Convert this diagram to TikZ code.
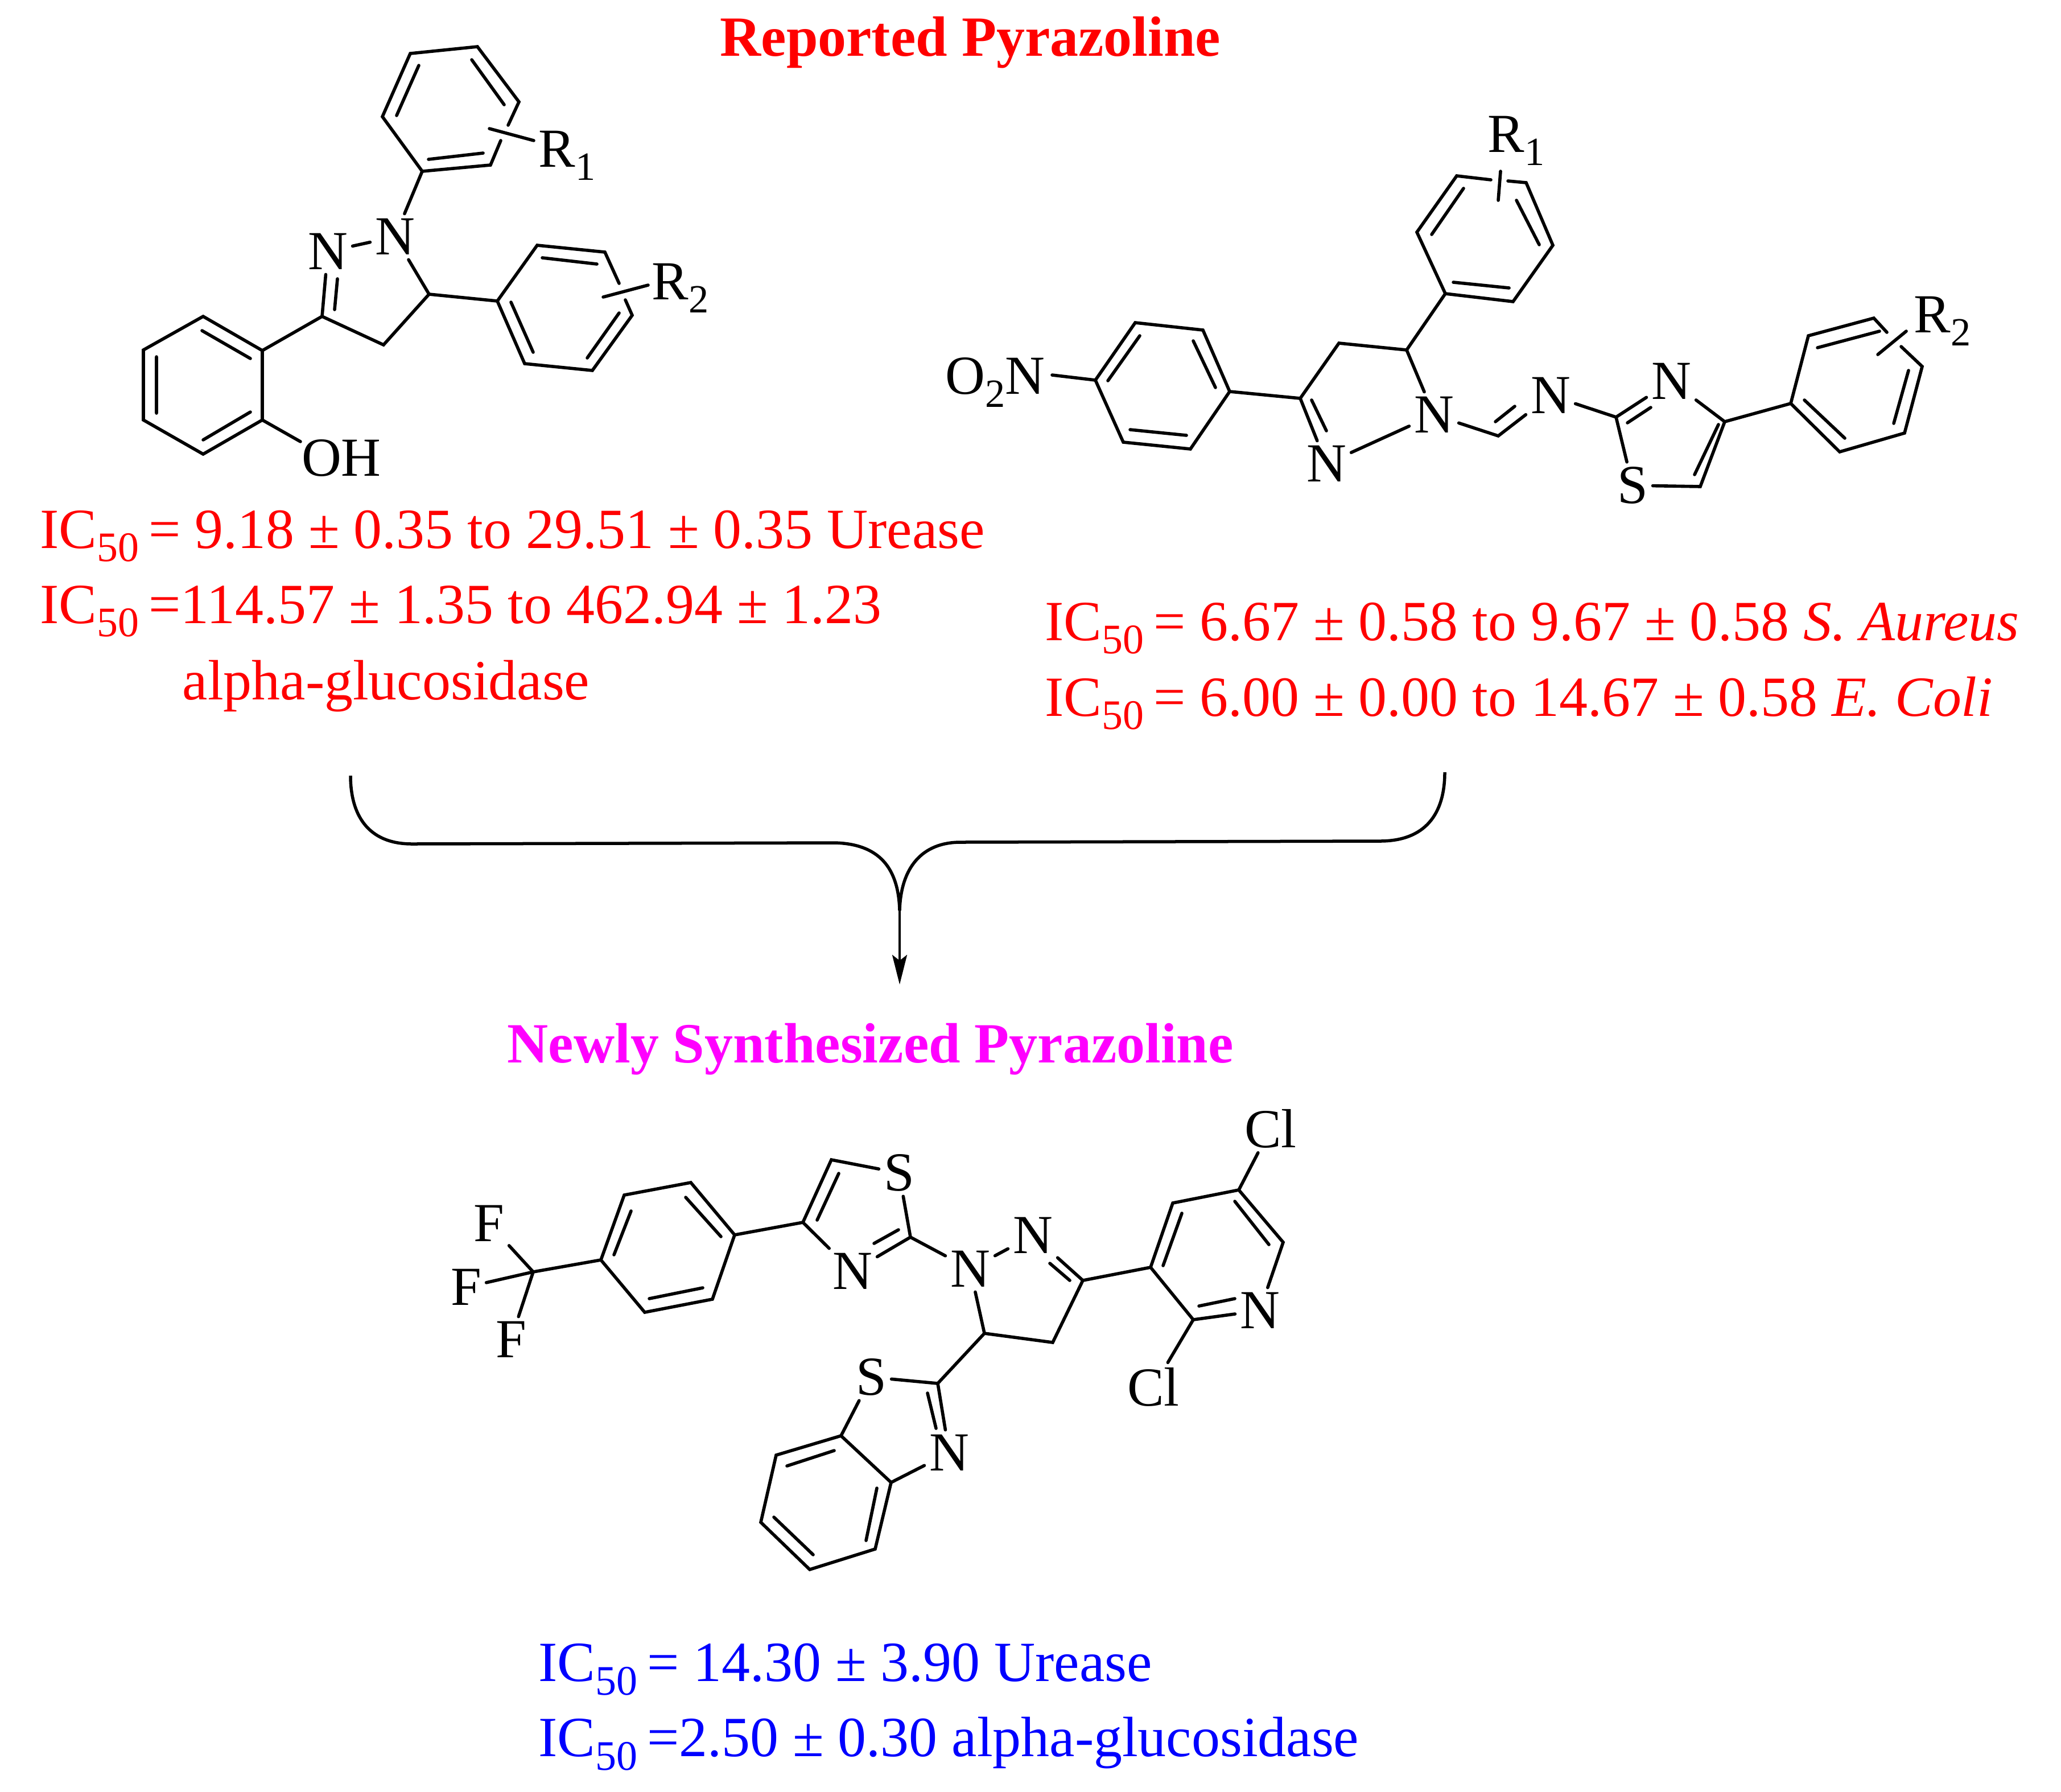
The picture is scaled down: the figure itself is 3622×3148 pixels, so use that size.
\documentclass[tikz,border=0pt]{standalone}
\usepackage{fontspec}
\setmainfont{Liberation Serif}
\usetikzlibrary{arrows.meta}
\definecolor{pRed}{HTML}{FF0000}
\definecolor{pMag}{HTML}{FF00FF}
\definecolor{pBlue}{HTML}{0000FF}
\newcommand\sbs[1]{\raisebox{-0.24em}{\fontsize{20}{20}\selectfont #1}}
\newcommand\sbl[1]{\raisebox{-0.24em}{\fontsize{21}{21}\selectfont #1}}
\tikzset{
 bond/.style={line width=0.056cm,line cap=round,line join=miter},
 atom/.style={font=\fontsize{27.5}{30}\selectfont,inner sep=0.08cm},
 rlabel/.style={font=\fontsize{27.5}{30}\selectfont,inner sep=0,anchor=base west},
 ictext/.style={font=\fontsize{28.4}{32}\selectfont,inner sep=0,anchor=base west},
 headtext/.style={font=\fontsize{28.4}{32}\selectfont\bfseries,inner sep=0,anchor=base west},
 curveline/.style={line width=0.055cm}
}
\newcommand\pts[1]{\foreach \n/\x/\y in {#1}{\coordinate (\n) at (\x,\y);}}
\begin{document}
\begin{tikzpicture}[x=0.01cm,y=-0.01cm]
\useasboundingbox (0,0) rectangle (3622,3148);
% --- headings
\node[headtext,text=pRed] (head1) at (1265,98) {Reported Pyrazoline};
\node[headtext,text=pMag] (head2) at (891,1867) {Newly Synthesized Pyrazoline};
% --- activity texts
\node[ictext,text=pRed] (t1) at (70,963) {IC\sbl{50}\,= 9.18 ± 0.35 to 29.51 ± 0.35 Urease};
\node[ictext,text=pRed] (t2) at (70,1095) {IC\sbl{50}\,=114.57 ± 1.35 to 462.94 ± 1.23};
\node[ictext,text=pRed] (t3) at (320,1229) {alpha-glucosidase};
\node[ictext,text=pRed] (t4) at (1836,1125) {IC\sbl{50}\,= 6.67 ± 0.58 to 9.67 ± 0.58 \textit{S. Aureus}};
\node[ictext,text=pRed] (t5) at (1836,1258) {IC\sbl{50}\,= 6.00 ± 0.00 to 14.67 ± 0.58 \textit{E. Coli}};
\node[ictext,text=pBlue] (t6) at (946,2954) {IC\sbl{50}\,= 14.30 ± 3.90 Urease};
\node[ictext,text=pBlue] (t7) at (946,3086) {IC\sbl{50}\,=2.50 ± 0.30 alpha-glucosidase};
% --- merging arrow
\coordinate (cL) at (616,1363); \coordinate (cLb) at (724,1483); \coordinate (cLe) at (1467,1481);
\coordinate (cR) at (2539,1357); \coordinate (cRb) at (2425,1478); \coordinate (cRe) at (1688,1480);
\coordinate (cM) at (1581,1600); \coordinate (cT) at (1581,1730);
\draw[curveline] (cL) .. controls (616,1430) and (645,1483) .. (cLb) -- (cLe) .. controls (1545,1483) and (1579,1525) .. (cM);
\draw[curveline] (cR) .. controls (2539,1430) and (2505,1478) .. (cRb) -- (cRe) .. controls (1620,1480) and (1583,1525) .. (cM);
\draw[line width=0.04cm,-{Stealth[length=0.52cm,width=0.26cm,inset=0.1cm]}] (cM) -- (cT);
% ================ Molecule 1
\node[atom] (m1N1) at (694,416) {N};
\node[atom] (m1N2) at (576,442) {N};
\node[atom] (m1OH) at (600,805) {OH};
\node[rlabel] (m1R1) at (946,293) {R\sbs{1}};
\node[rlabel] (m1R2) at (1145,526) {R\sbs{2}};
\pts{a1/839/82,a2/721/94,a3/672/205,a4/742/301,a5/862/290,a6/912/179,a56a/880/247,a56b/893/220,
 s1a/860/226,s1b/938/247,
 c3/566/556,c4/674/606,c5/754/517,
 b1/874/529,b2/944/431,b3/1063/443,b4/1111/554,b5/1041/651,b6/922/639,b34a/1088/498,b34b/1099/527,
 s2a/1060/522,s2b/1139/501,
 l1/461/616,l2/357/556,l3/252/615,l4/252/738,l5/357/798,l6/461/738,ohend/528/776}
\draw[bond] (a56b) -- (a6) -- (a1) -- (a2) -- (a3) -- (a4) -- (a5) -- (a56a);
\draw[bond] (736,115) -- (697,203) (829,105) -- (886,184) (753,280) -- (849,269);
\draw[bond] (s1a) -- (s1b);
\draw[bond] (a4) -- (m1N1);
\draw[bond] (m1N2) -- (m1N1);
\draw[bond] (m1N1) -- (c5) -- (c4) -- (c3) -- (m1N2);
\draw[bond] (588,544) -- (593,490);
\draw[bond] (c5) -- (b1);
\draw[bond] (b34a) -- (b3) -- (b2) -- (b1) -- (b6) -- (b5) -- (b4) -- (b34b);
\draw[bond] (953,453) -- (1049,464) (1088,550) -- (1032,629) (898,531) -- (937,619);
\draw[bond] (s2a) -- (s2b);
\draw[bond] (l1) -- (l2) -- (l3) -- (l4) -- (l5) -- (l6) -- cycle;
\draw[bond] (355,581) -- (440,630) (275,627) -- (275,726) (357,773) -- (440,724);
\draw[bond] (l1) -- (c3);
\draw[bond] (l6) -- (ohend);
% ================ Molecule 2
\node[rlabel] (m2R1) at (2614,267) {R\sbs{1}};
\node[rlabel] (m2R2) at (3363,584) {R\sbs{2}};
\node[rlabel] (m2NO) at (1661,692) {O\sbs{2}N};
\node[atom] (m2N1) at (2520,729) {N};
\node[atom] (m2N2) at (2331,815) {N};
\node[atom] (m2N3) at (2725,695) {N};
\node[atom] (m2N4) at (2937,670) {N};
\node[atom] (m2S) at (2869,853) {S};
\pts{d1/2560/309,d2/2682/321,d3/2729/431,d4/2659/530,d5/2540/516,d6/2490/408,d12a/2620/316,d12b/2650/318,
 st1a/2637/301,st1b/2633/352,
 p5/2472/615,p4/2353/603,p3/2285/700,
 f1/1925/668,f2/1995/567,f3/2114/580,f4/2161/688,f5/2092/789,f6/1974/777,o2nend/1849/659,
 ch/2633/766,
 tz2/2840/733,tz4/3031/741,tz5/2988/855,
 e1/3147/709,e2/3178/590,e3/3293/559,e4/3378/644,e5/3347/761,e6/3233/794,e34a/3316/584,e34b/3341/609,
 st2a/3350/582,st2b/3300/623}
\draw[bond] (d12a) -- (d1) -- (d6) -- (d5) -- (d4) -- (d3) -- (d2) -- (d12b);
\draw[bond] (2572,331) -- (2516,412) (2665,352) -- (2705,430) (2554,496) -- (2652,506);
\draw[bond] (st1a) -- (st1b);
\draw[bond] (d5) -- (p5) -- (p4) -- (p3);
\draw[bond] (p5) -- (m2N1);
\draw[bond] (p3) -- (m2N2);
\draw[bond] (2305,703) -- (2331,757);
\draw[bond] (m2N2) -- (m2N1);
\draw[bond] (f1) -- (f2) -- (f3) -- (f4) -- (f5) -- (f6) -- cycle;
\draw[bond] (2003,590) -- (1947,669) (2097,599) -- (2136,681) (1986,755) -- (2085,765);
\draw[bond] (f1) -- (o2nend);
\draw[bond] (f4) -- (p3);
\draw[bond] (m2N1) -- (ch) -- (m2N3);
\draw[bond] (2628,741) -- (2662,714);
\draw[bond] (m2N3) -- (tz2);
\draw[bond] (tz2) -- (m2N4);
\draw[bond] (2860,743) -- (2901,716);
\draw[bond] (m2N4) -- (tz4) -- (tz5) -- (m2S) -- (tz2);
\draw[bond] (3020,746) -- (2978,834);
\draw[bond] (tz4) -- (e1);
\draw[bond] (e34a) -- (e3) -- (e2) -- (e1) -- (e6) -- (e5) -- (e4) -- (e34b);
\draw[bond] (3194,611) -- (3303,582) (3354,651) -- (3328,744) (3171,703) -- (3242,770);
\draw[bond] (st2a) -- (st2b);
% ================ Molecule 3
\node[atom] (m3F1) at (859,2150) {F};
\node[atom] (m3F2) at (819,2262) {F};
\node[atom] (m3F3) at (898,2354) {F};
\node[atom] (m3S1) at (1580,2061) {S};
\node[atom] (m3N1) at (1498,2234) {N};
\node[atom] (m3N2) at (1705,2230) {N};
\node[atom] (m3N3) at (1815,2171) {N};
\node[atom] (m3N4) at (2214,2303) {N};
\node[atom] (m3Cl1) at (2233,1983) {Cl};
\node[atom] (m3Cl2) at (2027,2437) {Cl};
\node[atom] (m3S2) at (1531,2420) {S};
\node[atom] (m3N5) at (1668,2553) {N};
\pts{cf/937/2235,
 g1/1056/2214,g2/1097/2100,g3/1214/2078,g4/1291/2170,g5/1252/2283,g6/1133/2306,
 h1/1411/2148,h2/1461/2038,h3/1600/2174,
 y3/1903/2250,y4/1850/2359,y5/1730/2343,
 r1/2022/2227,r2/2061/2114,r3/2177/2091,r4/2255/2183,r6/2097/2319,
 bt/1648/2431,
 q1/1478/2523,q2/1566/2605,q3/1538/2722,q4/1423/2758,q5/1337/2675,q6/1364/2557}
\draw[bond] (cf) -- (m3F1); \draw[bond] (cf) -- (m3F2); \draw[bond] (cf) -- (m3F3); \draw[bond] (cf) -- (g1);
\draw[bond] (g1) -- (g2) -- (g3) -- (g4) -- (g5) -- (g6) -- cycle;
\draw[bond] (1109,2128) -- (1079,2205) (1205,2104) -- (1267,2173) (1141,2282) -- (1235,2263);
\draw[bond] (g4) -- (h1);
\draw[bond] (m3N1) -- (h1) -- (h2) -- (m3S1) -- (h3) -- (m3N1);
\draw[bond] (1474,2062) -- (1436,2144) (1536,2185) -- (1579,2161);
\draw[bond] (h3) -- (m3N2);
\draw[bond] (m3N2) -- (m3N3);
\draw[bond] (m3N3) -- (y3) -- (y4) -- (y5) -- (m3N2);
\draw[bond] (1845,2220) -- (1880,2250);
\draw[bond] (y3) -- (r1);
\draw[bond] (m3N4) -- (r4) -- (r3) -- (r2) -- (r1) -- (r6) -- (m3N4);
\draw[bond] (2077,2132) -- (2044,2224) (2170,2111) -- (2230,2187) (2107,2295) -- (2170,2282);
\draw[bond] (r3) -- (m3Cl1);
\draw[bond] (r6) -- (m3Cl2);
\draw[bond] (y5) -- (bt);
\draw[bond] (m3S2) -- (bt) -- (m3N5);
\draw[bond] (1630,2448) -- (1645,2510);
\draw[bond] (m3N5) -- (q2) -- (q3) -- (q4) -- (q5) -- (q6) -- (q1) -- (m3S2);
\draw[bond] (q1) -- (q2);
\draw[bond] (1383,2576) -- (1466,2549) (1541,2615) -- (1522,2707) (1360,2666) -- (1429,2732);
\end{tikzpicture}
\end{document}
